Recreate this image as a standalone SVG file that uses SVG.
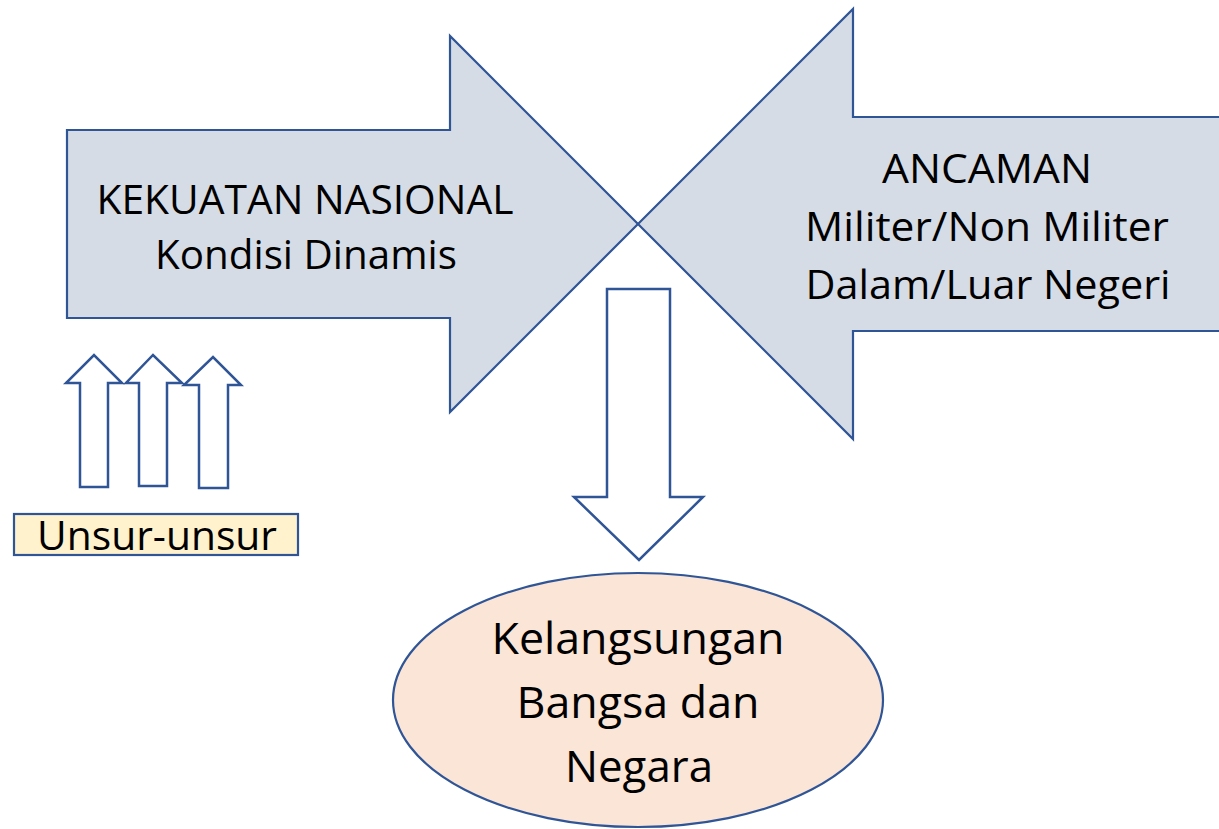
<svg xmlns="http://www.w3.org/2000/svg" width="1219" height="829" viewBox="0 0 1219 829">
<style>
.big{fill:#D6DCE5;stroke:#2F5597;stroke-width:2.2;stroke-linejoin:miter}
.out{fill:#FFFFFF;stroke:#2F5597;stroke-width:2.5;stroke-linejoin:miter}
.t{font-family:"Open Sans","Noto Sans","Liberation Sans",sans-serif;font-size:40px;fill:#000;text-anchor:middle}
.t2{font-family:"Open Sans","Noto Sans","Liberation Sans",sans-serif;font-size:44px;fill:#000;text-anchor:middle}
</style>
<rect width="1219" height="829" fill="#FFFFFF"/>
<g id="kekuatan">
<polygon class="big" points="67,130 450,130 450,36 638,224 450,412 450,318 67,318"/>
<text class="t" x="305" y="214" textLength="417" lengthAdjust="spacingAndGlyphs">KEKUATAN NASIONAL</text>
<text class="t" x="306" y="269" textLength="302" lengthAdjust="spacingAndGlyphs">Kondisi Dinamis</text>
</g>
<g id="ancaman">
<polygon class="big" points="1221,117 853,117 853,9 638,224 853,439 853,331 1221,331"/>
<text class="t" x="987" y="183" textLength="210" lengthAdjust="spacingAndGlyphs">ANCAMAN</text>
<text class="t" x="987" y="241" textLength="364" lengthAdjust="spacingAndGlyphs">Militer/Non Militer</text>
<text class="t" x="988" y="299" textLength="365" lengthAdjust="spacingAndGlyphs">Dalam/Luar Negeri</text>
</g>
<g id="connectors">
<polygon class="out" points="607,289 670,289 670,497 703,497 639,560 574,497 607,497"/>
<polygon class="out" points="80,487 108,487 108,383 122,383 94,355 66,383 80,383"/>
<polygon class="out" points="139,486 167,486 167,383 182,383 153,355 126,383 139,383"/>
<polygon class="out" points="199,488 228,488 228,385 241,385 213,357 184,385 199,385"/>
</g>
<g id="unsur">
<rect x="14" y="514" width="284" height="41" fill="#FFF2CC" stroke="#2F5597" stroke-width="2.2"/>
<text class="t" x="157" y="550" textLength="240" lengthAdjust="spacingAndGlyphs">Unsur-unsur</text>
</g>
<g id="kelangsungan">
<ellipse cx="638" cy="700" rx="245" ry="127" fill="#FBE5D6" stroke="#2F5597" stroke-width="2.2"/>
<text class="t2" x="638" y="654" textLength="293" lengthAdjust="spacingAndGlyphs">Kelangsungan</text>
<text class="t2" x="638" y="718" textLength="243" lengthAdjust="spacingAndGlyphs">Bangsa dan</text>
<text class="t2" x="639" y="782" textLength="148" lengthAdjust="spacingAndGlyphs">Negara</text>
</g>
</svg>
